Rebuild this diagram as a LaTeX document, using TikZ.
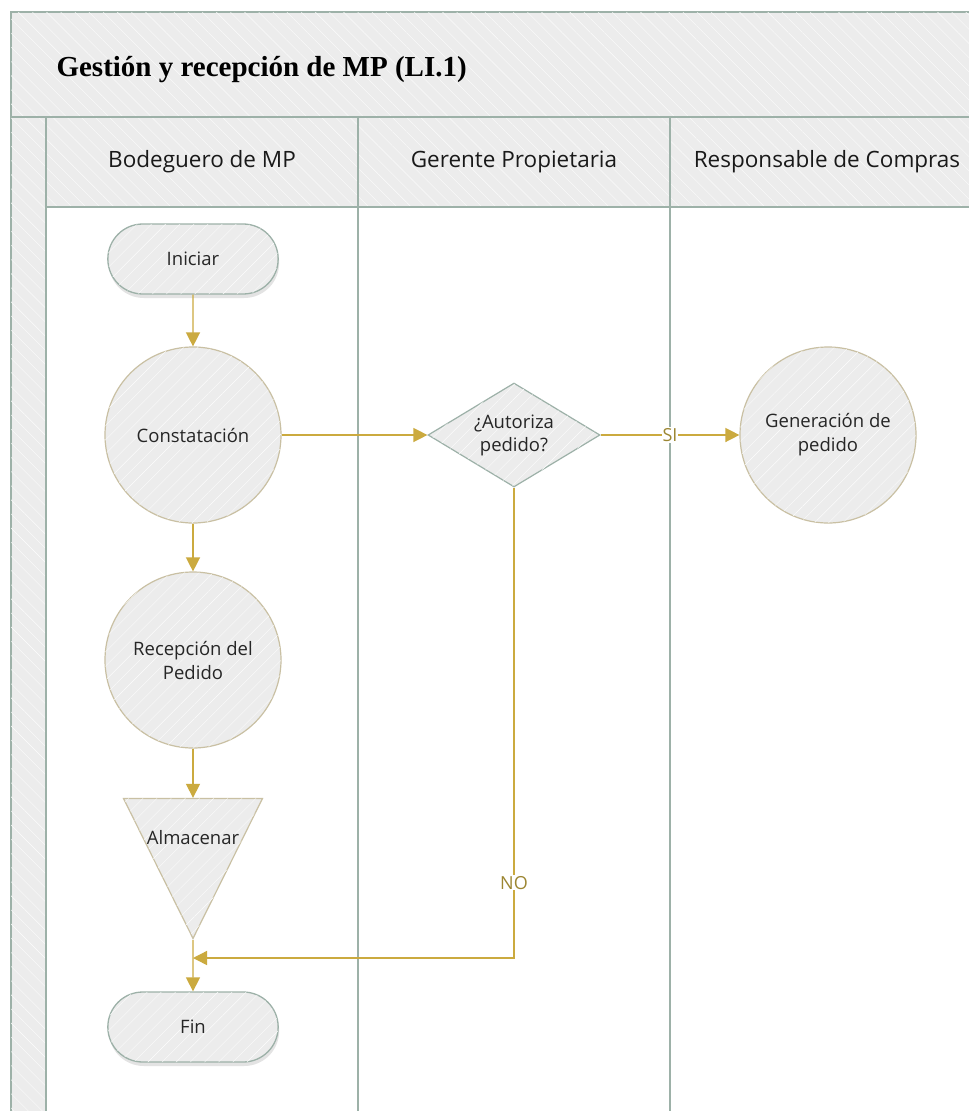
\documentclass[tikz,border=0pt]{standalone}
\usepackage{fontspec}
\setmainfont{Open Sans}
\newfontfamily\titlefont{Liberation Serif}
\usetikzlibrary{shapes.geometric,shapes.misc,arrows.meta,patterns.meta,shadows}

\definecolor{panelgray}{HTML}{ECECEC}
\definecolor{laneline}{HTML}{9DB1A8}
\definecolor{flowgold}{HTML}{CBAA3F}
\definecolor{roundline}{HTML}{C9C0A3}
\definecolor{tagtext}{HTML}{9C8632}

\tikzset{
  panel/.style={fill=panelgray, draw=laneline, line width=1.6pt,
    postaction={pattern={Lines[angle=-45,distance=10pt,line width=0.4pt]}, pattern color=white!85!panelgray}},
  shape fill/.style={fill=panelgray, text=black!85,
    postaction={pattern={Lines[angle=45,distance=10pt,line width=0.4pt]}, pattern color=white!85!panelgray}},
  terminal/.style={shape fill, rounded rectangle, draw=laneline, line width=1.3pt,
    minimum width=177pt, minimum height=70pt, font=\fontsize{18.5}{22}\selectfont,
    drop shadow={opacity=0.22, shadow xshift=1pt, shadow yshift=-4pt}},
  process/.style={shape fill, circle, draw=roundline, line width=1.2pt,
    minimum size=176pt, align=center, font=\fontsize{18.5}{24}\selectfont},
  decision/.style={shape fill, diamond, draw=laneline, line width=1.2pt,
    minimum width=172pt, minimum height=104pt, aspect=1.65, inner sep=0pt,
    align=center, font=\fontsize{18.5}{23}\selectfont},
  storage/.style={shape fill, isosceles triangle, isosceles triangle stretches,
    shape border rotate=-90, draw=roundline, line width=1.2pt,
    minimum width=139pt, minimum height=140pt, inner sep=0pt},
  lanetitle/.style={font=\fontsize{22.5}{26}\selectfont, text=black!90},
  flow/.style={draw=flowgold, line width=1.4pt, -{Triangle[length=14pt,width=14pt]}},
  tag/.style={fill=white, inner sep=1pt, text=tagtext, font=\fontsize{18}{20}\selectfont}
}

\begin{document}
\begin{tikzpicture}[x=1pt,y=-1pt]
  \useasboundingbox (0,0) rectangle (969,1111);
  \clip (0,0) rectangle (969,1111);

  % pool, title band and lane headers
  \draw[panel] (11,12) rectangle (1000,1130);
  \draw[fill=white, draw=laneline, line width=1.6pt] (46,207) rectangle (1000,1130);
  \draw[draw=laneline, line width=1.6pt] (11,117) -- (1000,117);
  \draw[draw=laneline, line width=1.6pt] (46,117) -- (46,1130);
  \draw[draw=laneline, line width=1.6pt] (358,117) -- (358,1130);
  \draw[draw=laneline, line width=1.6pt] (670,117) -- (670,1130);
  \node[anchor=west, font=\titlefont\bfseries\fontsize{29}{32}\selectfont] (titulo) at (53,70) {Gestión y recepción de MP (LI.1)};
  \node[lanetitle] (bodeguero) at (202,162) {Bodeguero de MP};
  \node[lanetitle] (gerente) at (514,162) {Gerente Propietaria};
  \node[lanetitle] (compras) at (827,162) {Responsable de Compras};

  % shapes
  \node[terminal] (iniciar) at (193,259) {Iniciar};
  \node[process] (constatacion) at (193,435) {Constatación};
  \node[process] (recepcion) at (193,660) {Recepción del\\Pedido};
  \node[storage, anchor=apex] (almacenar) at (193,940) {};
  \node[text=black!85, font=\fontsize{18.5}{22}\selectfont] (almtxt) at (193,838) {Almacenar};
  \node[terminal] (fin) at (193,1027) {Fin};
  \node[decision] (autoriza) at (514,435) {¿Autoriza\\pedido?};
  \node[process] (generacion) at (828,435) {Generación de\\pedido};
  \coordinate (union) at (193,958);

  % connectors
  \draw[flow] (iniciar) -- (constatacion);
  \draw[flow] (constatacion) -- (autoriza);
  \draw[flow] (autoriza) -- node[tag] {SI} (generacion);
  \draw[flow] (constatacion) -- (recepcion);
  \draw[flow] (recepcion) -- (almacenar.north);
  \draw[flow] (almacenar.apex) -- (fin);
  \draw[flow] (autoriza.south) |- node[tag, pos=0.42] {NO} (union);
\end{tikzpicture}
\end{document}
